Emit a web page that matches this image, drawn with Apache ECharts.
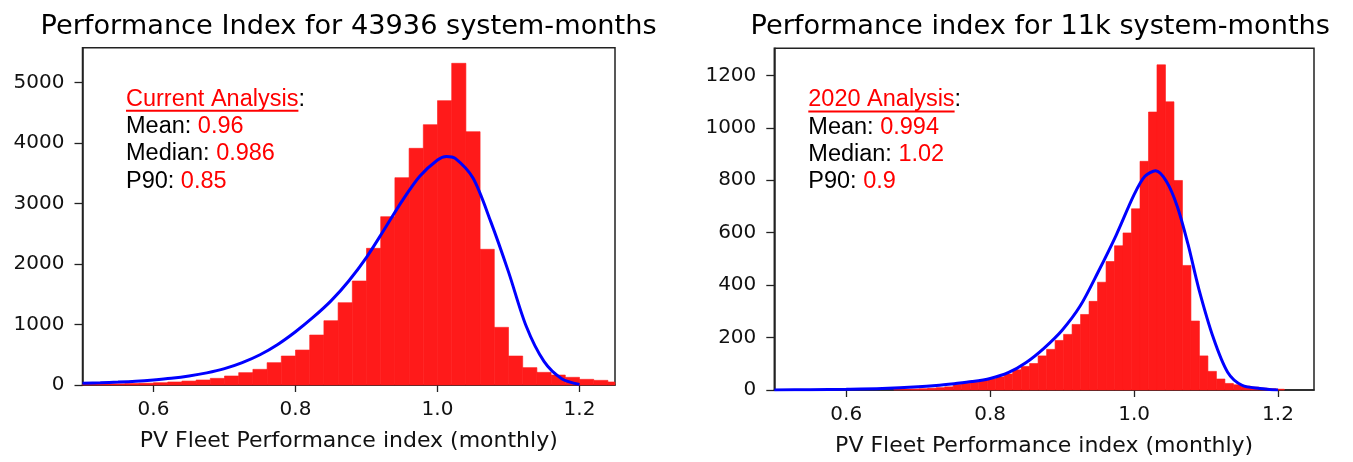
<!DOCTYPE html>
<html>
<head>
<meta charset="utf-8">
<script src="https://cdn.jsdelivr.net/npm/echarts@6/dist/echarts.min.js"></script>
<style>
html,body{margin:0;padding:0;background:#fff;}
#c{width:1353px;height:462px;}
</style>
</head>
<body>
<div id="c"></div>
<script>
// ---------- data ----------
const leftTitle = 'Performance Index for 43936 system-months';
const rightTitle = 'Performance index for 11k system-months';
const xAxisName = 'PV Fleet Performance index (monthly)';
const xTicks = [0.6, 0.8, 1.0, 1.2];
const leftYTicks = [0, 1000, 2000, 3000, 4000, 5000];
const rightYTicks = [0, 200, 400, 600, 800, 1000, 1200];

const leftBinStart = 0.50;
const leftBinWidth = 0.02;
const leftCounts = [12, 15, 20, 25, 30, 38, 50, 65, 83, 110, 149, 204, 259, 369, 479, 578, 826, 1063, 1361, 1719,
  2259, 2782, 3427, 3912, 4303, 4700, 5317, 4187, 2243, 953, 479, 287, 209, 165, 127, 94, 77, 50];

const rightBinStart = 0.666;
const rightBinWidth = 0.0118;
const rightCounts = [2, 3, 4, 5, 7, 9, 12, 22, 26, 30, 36, 42, 50, 61, 77, 90, 101, 130, 155, 189,
  212, 250, 288, 338, 411, 490, 550, 599, 691, 872, 1060, 1240, 1099, 799, 475, 263, 130, 71, 42, 25,
  20, 15, 11, 7, 5, 3];

const leftCurveX = [0.50, 0.525, 0.55, 0.575, 0.60, 0.625, 0.65, 0.675, 0.70, 0.725, 0.75, 0.775, 0.80, 0.825, 0.85, 0.875, 0.90, 0.925, 0.95, 0.975, 1.00, 1.0125, 1.025, 1.05, 1.075, 1.10, 1.125, 1.15, 1.175, 1.20];
const leftCurveY = [30, 38, 48, 62, 83, 110, 148, 200, 270, 370, 500, 670, 880, 1120, 1390, 1720, 2110, 2570, 3040, 3450, 3720, 3778, 3745, 3420, 2700, 1870, 970, 390, 105, 10];

const rightCurveX = [0.50, 0.55, 0.60, 0.65, 0.70, 0.725, 0.75, 0.775, 0.80, 0.825, 0.85, 0.875, 0.90, 0.925, 0.95, 0.975, 1.00, 1.015, 1.03, 1.045, 1.06, 1.075, 1.09, 1.11, 1.13, 1.15, 1.175, 1.20];
const rightCurveY = [0, 1, 3, 6, 12, 17, 24, 32, 44, 66, 105, 160, 228, 320, 450, 590, 745, 815, 836, 795, 700, 555, 385, 200, 68, 18, 6, 0];

const leftStats = {head: 'Current Analysis', mean: '0.96', median: '0.986', p90: '0.85'};
const rightStats = {head: '2020 Analysis', mean: '0.994', median: '1.02', p90: '0.9'};

// ---------- build ----------
function bins(start, width, counts) {
  return counts.map((c, i) => [start + i * width, start + (i + 1) * width, c]);
}
function pairs(xs, ys) { return xs.map((x, i) => [x, ys[i]]); }

const TICK_FONT = 'DejaVu Sans';
const grids = [
  {left: 82.5, top: 47.7, width: 532.5, height: 337.3},
  {left: 774.3, top: 48.3, width: 539.7, height: 344.4}
];
const yMax = [5575, 1303];
const yTicks = [leftYTicks, rightYTicks];

function renderHist(params, api) {
  const p0 = api.coord([api.value(0), api.value(2)]);
  const p1 = api.coord([api.value(1), 0]);
  const cs = params.coordSys;
  const r = echarts.graphic.clipRectByRect(
    {x: p0[0], y: p0[1], width: p1[0] - p0[0], height: p1[1] - p0[1]},
    {x: cs.x, y: cs.y, width: cs.width, height: cs.height});
  if (!r) return null;
  return {type: 'rect', shape: r, style: {fill: '#ff1a1a', stroke: '#ff1a1a', lineWidth: 0.6}};
}

const chart = echarts.init(document.getElementById('c'), null, {renderer: 'canvas'});

const titleStyle = {fontFamily: TICK_FONT, fontWeight: 'normal', fontSize: 27.2, color: '#000'};
const option = {
  animation: false,
  backgroundColor: '#ffffff',
  title: [
    {text: leftTitle, left: 35.5, top: 8, textStyle: titleStyle},
    {text: rightTitle, left: 745.5, top: 8, textStyle: titleStyle}
  ],
  grid: grids.map(g => Object.assign({show: true, borderColor: '#222', borderWidth: 1.5, backgroundColor: 'transparent'}, g)),
  xAxis: [0, 1].map(i => ({
    type: 'value', gridIndex: i, min: 0.5, max: 1.25,
    name: xAxisName, nameLocation: 'middle', nameGap: 45,
    nameTextStyle: {fontFamily: TICK_FONT, fontSize: 22, color: '#111'},
    axisLine: {show: true, onZero: false, lineStyle: {color: '#222', width: 1.5}},
    axisTick: {show: true, customValues: xTicks, length: 7, lineStyle: {color: '#222', width: 1.3}},
    axisLabel: {customValues: xTicks, formatter: v => v.toFixed(1), margin: 15,
      fontFamily: TICK_FONT, fontSize: 20, color: '#111'},
    splitLine: {show: false}
  })),
  yAxis: [0, 1].map(i => ({
    type: 'value', gridIndex: i, min: 0, max: yMax[i],
    axisLine: {show: true, onZero: false, lineStyle: {color: '#222', width: 1.5}},
    axisTick: {show: true, customValues: yTicks[i], length: 8, lineStyle: {color: '#222', width: 1.3}},
    axisLabel: {customValues: yTicks[i], formatter: v => String(Math.round(v)), margin: 18,
      fontFamily: TICK_FONT, fontSize: 20, color: '#111'},
    splitLine: {show: false}
  })),
  series: [
    {type: 'custom', xAxisIndex: 0, yAxisIndex: 0, renderItem: renderHist,
     encode: {x: [0, 1], y: 2}, data: bins(leftBinStart, leftBinWidth, leftCounts), z: 2},
    {type: 'custom', xAxisIndex: 1, yAxisIndex: 1, renderItem: renderHist,
     encode: {x: [0, 1], y: 2}, data: bins(rightBinStart, rightBinWidth, rightCounts), z: 2},
    {type: 'line', xAxisIndex: 0, yAxisIndex: 0, data: pairs(leftCurveX, leftCurveY), smooth: 0.3,
     showSymbol: false, lineStyle: {color: '#0000ff', width: 3}, z: 3},
    {type: 'line', xAxisIndex: 1, yAxisIndex: 1, data: pairs(rightCurveX, rightCurveY), smooth: 0.3,
     showSymbol: false, lineStyle: {color: '#0000ff', width: 3}, z: 3}
  ]
};

// stats annotation boxes
const ANN_FONT = '"Liberation Sans", Arial, sans-serif';
const ANN_SIZE = 23.5;
const LINE_H = 27.3;
function measure(txt) {
  const c = document.createElement('canvas').getContext('2d');
  c.font = ANN_SIZE + 'px ' + ANN_FONT;
  return c.measureText(txt).width;
}
function annotation(st, x, y) {
  const rich = {
    r: {fill: '#ff0000', fontFamily: ANN_FONT, fontSize: ANN_SIZE, lineHeight: LINE_H},
    k: {fill: '#000000', fontFamily: ANN_FONT, fontSize: ANN_SIZE, lineHeight: LINE_H}
  };
  const txt = '{r|' + st.head + '}{k|:}\n' +
    '{k|Mean: }{r|' + st.mean + '}\n' +
    '{k|Median: }{r|' + st.median + '}\n' +
    '{k|P90: }{r|' + st.p90 + '}';
  const w = measure(st.head);
  return [
    {type: 'text', x: x, y: y, z: 10, style: {text: txt, rich: rich, fontFamily: ANN_FONT, fontSize: ANN_SIZE,
      lineHeight: LINE_H, verticalAlign: 'top'}},
    {type: 'line', z: 10, shape: {x1: x, y1: y + LINE_H * 0.5 + 11.5, x2: x + w, y2: y + LINE_H * 0.5 + 11.5},
      style: {stroke: '#ff0000', lineWidth: 2}}
  ];
}
option.graphic = [].concat(
  annotation(leftStats, 126, 85.5),
  annotation(rightStats, 808.3, 86.3),
  [{type: 'rect', z: 100, shape: {x: 1336, y: 0, width: 17, height: 44}, style: {fill: '#ffffff'}}]
);

chart.setOption(option);
</script>
</body>
</html>
